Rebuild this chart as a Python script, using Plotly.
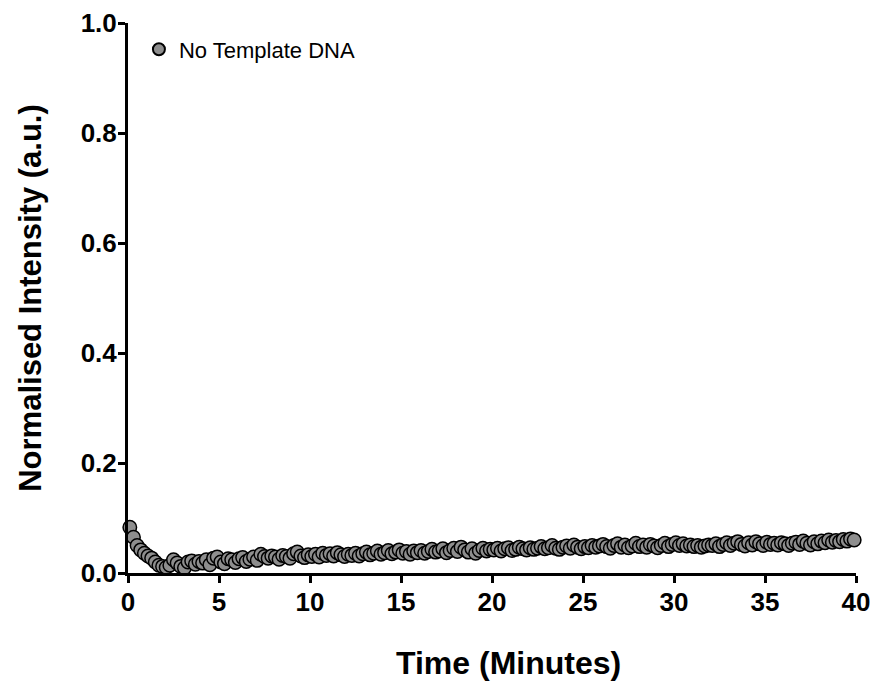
import plotly.graph_objects as go

series_name = "No Template DNA"
x_title = "Time (Minutes)"
y_title = "Normalised Intensity (a.u.)"
time_min = [round(0.1 + 0.2 * i, 1) for i in range(200)]
intensity = [
    0.083, 0.065, 0.050, 0.042, 0.036, 0.031, 0.027, 0.020, 0.014, 0.012,
    0.010, 0.014, 0.024, 0.018, 0.012, 0.009, 0.020, 0.022, 0.016, 0.021,
    0.018, 0.024, 0.015, 0.027, 0.029, 0.020, 0.017, 0.026, 0.024, 0.019,
    0.026, 0.028, 0.021, 0.025, 0.029, 0.023, 0.034, 0.030, 0.027, 0.031,
    0.029, 0.025, 0.032, 0.030, 0.027, 0.035, 0.038, 0.031, 0.028, 0.033,
    0.030, 0.034, 0.029, 0.036, 0.032, 0.035, 0.031, 0.037, 0.033, 0.030,
    0.034, 0.032, 0.036, 0.031, 0.035, 0.038, 0.033, 0.036, 0.040, 0.034,
    0.037, 0.041, 0.035, 0.038, 0.042, 0.036, 0.039, 0.034, 0.040, 0.037,
    0.041, 0.036, 0.039, 0.043, 0.038, 0.040, 0.044, 0.037, 0.041, 0.045,
    0.039, 0.047, 0.042, 0.038, 0.044, 0.036, 0.041, 0.045, 0.040, 0.043,
    0.042, 0.045, 0.040, 0.044, 0.046, 0.041, 0.043, 0.047, 0.044, 0.042,
    0.046, 0.043, 0.045, 0.048, 0.044, 0.046, 0.050, 0.045, 0.043, 0.047,
    0.049, 0.045, 0.051, 0.047, 0.044, 0.048, 0.046, 0.050, 0.047, 0.049,
    0.052, 0.048, 0.045, 0.050, 0.053, 0.047, 0.051, 0.046, 0.049, 0.054,
    0.048, 0.051, 0.047, 0.052, 0.049, 0.046, 0.050, 0.054, 0.048, 0.052,
    0.055, 0.050, 0.053, 0.049, 0.051, 0.048, 0.050, 0.047, 0.049, 0.051,
    0.050, 0.053, 0.048, 0.052, 0.055, 0.050, 0.054, 0.057, 0.052, 0.049,
    0.055, 0.051, 0.057, 0.053, 0.050, 0.056, 0.052, 0.054, 0.051, 0.055,
    0.053, 0.050, 0.054, 0.056, 0.052, 0.058, 0.054, 0.051, 0.057, 0.053,
    0.058, 0.055, 0.060, 0.056, 0.059, 0.057, 0.061, 0.058, 0.062, 0.060,
]
x_ticks = [0, 5, 10, 15, 20, 25, 30, 35, 40]
y_ticks = [0.0, 0.2, 0.4, 0.6, 0.8, 1.0]

FONT = "Arial, 'Liberation Sans', Helvetica, sans-serif"

fig = go.Figure()
fig.add_trace(go.Scatter(
    x=time_min, y=intensity, mode="markers", name=series_name,
    marker=dict(size=13.5, color="#8e8e8e", line=dict(color="black", width=1.5)),
    cliponaxis=False,
))

axis_common = dict(
    showline=True, linecolor="black", linewidth=3,
    ticks="outside", ticklen=7, tickwidth=3, tickcolor="black",
    showgrid=False, zeroline=False, automargin=False,
    tickfont=dict(family=FONT, size=26, color="black", weight="bold"),
)

fig.update_layout(
    width=870, height=678,
    margin=dict(l=120, r=22, t=15, b=113),
    plot_bgcolor="white", paper_bgcolor="white",
    font=dict(family=FONT, color="black"),
    showlegend=True,
    legend=dict(x=0.015, y=0.99, xanchor="left", yanchor="top",
                font=dict(family=FONT, size=22, color="black"),
                bgcolor="rgba(0,0,0,0)", itemsizing="constant"),
    xaxis=dict(range=[0, 40], tickvals=x_ticks, ticktext=[str(v) for v in x_ticks],
               ticklabelstandoff=-3, **axis_common),
    yaxis=dict(range=[0, 1.0], tickvals=y_ticks, ticktext=[f"{v:.1f}" for v in y_ticks],
               ticklabelstandoff=-4,
               title=dict(text=y_title, standoff=30,
                          font=dict(family=FONT, size=31, color="black", weight="bold")),
               **axis_common),
    annotations=[dict(text=x_title, xref="paper", yref="paper", x=0.522, y=-0.164,
                      xanchor="center", yanchor="middle", showarrow=False,
                      font=dict(family=FONT, size=32, color="black", weight="bold"))],
)

fig.write_html("out.html")
